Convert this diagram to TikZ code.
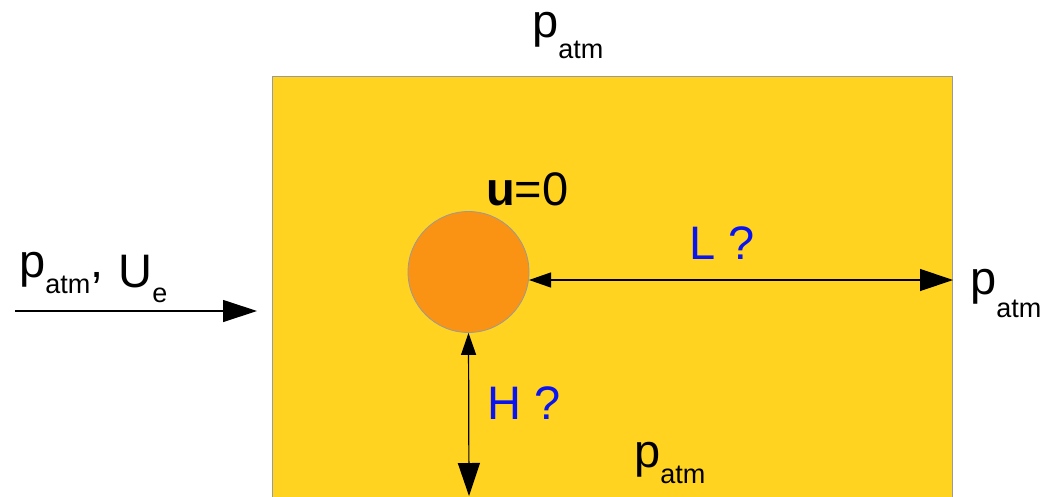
\documentclass[tikz,border=0pt]{standalone}
\usepackage{fontspec}
\setmainfont{Liberation Sans}
\usetikzlibrary{arrows.meta}
\definecolor{fillyellow}{HTML}{FFD320}
\definecolor{cylorange}{HTML}{FA9214}
\definecolor{qblue}{HTML}{0A14F0}
\definecolor{edgegray}{HTML}{9A9A9A}
\newcommand{\lowsub}[2][18pt]{\raisebox{-#1}{\fontsize{27}{29}\selectfont #2}}
\begin{document}
\begin{tikzpicture}[x=1pt,y=-1pt,
  lbl/.style={inner sep=0pt, anchor=base west, font=\fontsize{47}{51}\selectfont},
  qlbl/.style={lbl, text=qblue},
  dim/.style={line width=1.2pt, {Triangle[length=22pt,width=15pt]}-{Triangle[length=33pt,width=22pt]}},
  flow/.style={line width=1.2pt, -{Triangle[length=34pt,width=22pt]}}]
\useasboundingbox (0,0) rectangle (1060,496);
\fill[white] (0,0) rectangle (1060,496);
\node[draw=edgegray, fill=fillyellow, line width=1pt, inner sep=0pt, anchor=north west,
      minimum width=680pt, minimum height=460pt] (domain) at (272,76) {};
\node[circle, draw=edgegray, fill=cylorange, line width=0.8pt, inner sep=0pt,
      minimum size=121pt] (cyl) at (468.5,272) {};
% labels
\node[lbl] (ptop) at (532,37) {p\lowsub[21pt]{atm}};
\node[lbl] (uzero) at (486,205) {\textbf{u}=0};
\node[qlbl] (Llbl) at (689,259) {L ?};
\node[qlbl] (Hlbl) at (487,419) {H ?};
\node[lbl] (pright) at (970,294) {p\lowsub[23pt]{atm}};
\node[lbl] (pbottom) at (634,467) {p\lowsub[16pt]{atm}};
\node[lbl] (pleft) at (19,277) {p\lowsub[16pt]{atm}, \raisebox{-10pt}{\kern2pt U\lowsub[15pt]{e}}};
% connectors
\coordinate (Lstart) at (529,280);
\draw[dim] (Lstart) -- (domain.east |- Lstart);
\coordinate (Hend) at (469,496);
\draw[dim] (cyl.south) -- (Hend);
\coordinate (inA) at (15,311);
\coordinate (inB) at (257,311);
\draw[flow] (inA) -- (inB);
\end{tikzpicture}
\end{document}
